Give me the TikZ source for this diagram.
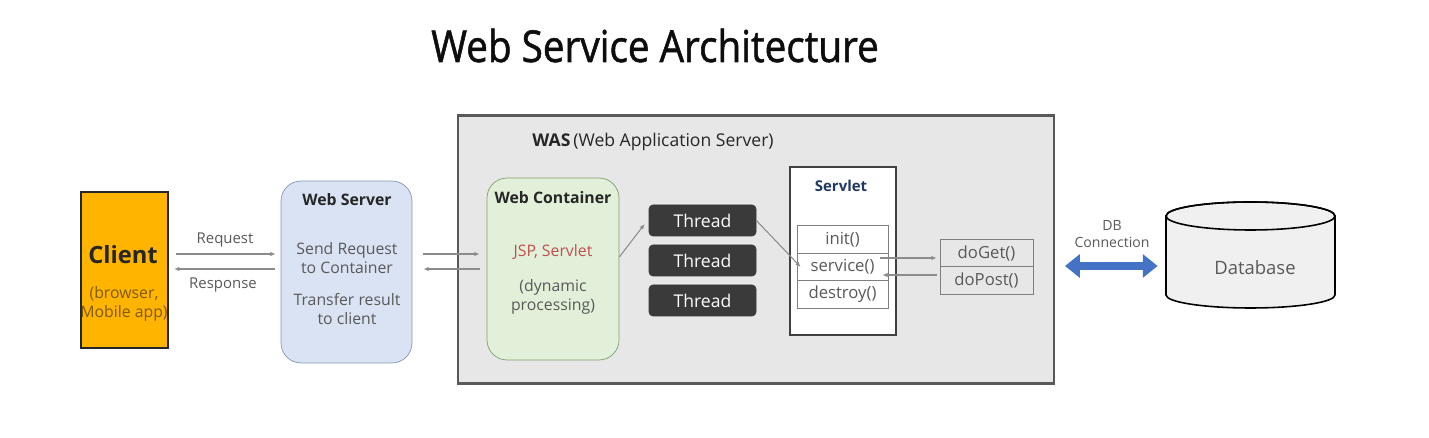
\documentclass[tikz,border=0pt]{standalone}
\usepackage{fontspec}
\setmainfont{Open Sans}
\newfontfamily\titlefont[FakeStretch=0.88, FakeBold=1.2]{Open Sans}
\usetikzlibrary{arrows.meta}

\definecolor{titlegray}{HTML}{0D0D0D}
\definecolor{clientfill}{HTML}{FFB400}
\definecolor{clientline}{HTML}{262626}
\definecolor{clienttext}{HTML}{7F5A00}
\definecolor{wsfill}{HTML}{DAE3F3}
\definecolor{wsline}{HTML}{8497B0}
\definecolor{wasfill}{HTML}{E7E7E7}
\definecolor{wasline}{HTML}{595959}
\definecolor{wcfill}{HTML}{E2F0D9}
\definecolor{wcline}{HTML}{7F9F6F}
\definecolor{jspred}{HTML}{C0504D}
\definecolor{threadfill}{HTML}{3A3A3A}
\definecolor{servline}{HTML}{404040}
\definecolor{servtext}{HTML}{1F3864}
\definecolor{methline}{HTML}{7F7F7F}
\definecolor{conngray}{HTML}{8C8C8C}
\definecolor{dbblue}{HTML}{4472C4}
\definecolor{dbfill}{HTML}{F0F0F0}
\definecolor{bodytext}{HTML}{595959}

\tikzset{
  conn/.style={draw=conngray, line width=0.6pt, -{Latex[length=3pt,width=2.5pt]}},
  bodyfont/.style={text=bodytext, font=\fontsize{9}{10.5}\selectfont, align=center},
  headfont/.style={text=clientline, font=\bfseries\fontsize{9}{11}\selectfont, anchor=base},
  threadbox/.style={fill=threadfill, draw=threadfill, rounded corners=0.08cm,
    minimum width=2.14cm, minimum height=0.62cm, text=white, font=\fontsize{10}{12}\selectfont},
  method/.style={draw=methline, fill=white, minimum width=1.82cm, minimum height=0.55cm,
    text=bodytext, font=\fontsize{9.5}{11}\selectfont},
  dispatch/.style={draw=methline, fill=wasfill, minimum width=1.86cm, minimum height=0.55cm,
    text=bodytext, font=\fontsize{9.5}{11}\selectfont}
}

\begin{document}
\begin{tikzpicture}[x=0.02cm, y=0.02cm]
    \useasboundingbox (0,0) rectangle (1429,438);
    \node[anchor=base, text=titlegray, font=\titlefont\fontsize{25}{30}\selectfont] (title) at (655,376) {Web Service Architecture};

    \node[draw=clientline, line width=1.2pt, fill=clientfill, minimum width=1.74cm, minimum height=3.12cm] (client) at (124.5,168) {};
    \node[anchor=base, text=clientline, font=\bfseries\fontsize{13.5}{16}\selectfont] (clientname) at (123,174) {Client};
    \node[bodyfont, text=clienttext] (clientsub) at (124,134) {(browser,\\Mobile app)};

    \node[draw=wsline, fill=wsfill, rounded corners=0.4cm, minimum width=2.62cm, minimum height=3.64cm] (websrv) at (346.5,166) {};
    \node[headfont] (websrvname) at (347,232) {Web Server};
    \node[bodyfont] (websrvsend) at (347,180) {Send Request\\to Container};
    \node[bodyfont] (websrvback) at (347,129) {Transfer result\\to client};

    \node[bodyfont, font=\fontsize{8.5}{10}\selectfont, anchor=base] (request) at (225,194) {Request};
    \node[bodyfont, font=\fontsize{8.5}{10}\selectfont, anchor=base] (response) at (223,149) {Response};
    \draw[conn, shorten <=0.14cm, shorten >=0.1cm] (client.east |- 0,184) -- (websrv.west |- 0,184);
    \draw[conn, shorten <=0.12cm, shorten >=0.1cm] (websrv.west |- 0,169) -- (client.east |- 0,169);

    \node[draw=wasline, line width=1.2pt, fill=wasfill, minimum width=11.92cm, minimum height=5.36cm] (was) at (756,188.5) {};
    \node[anchor=base, text=clientline, font=\fontsize{10}{12}\selectfont] (wasname) at (653,291) {\textbf{WAS}\,(Web Application Server)};

    \node[draw=wcline, fill=wcfill, rounded corners=0.4cm, minimum width=2.64cm, minimum height=3.64cm] (wc) at (553,169) {};
    \node[headfont] (wcname) at (553,234) {Web Container};
    \node[bodyfont, text=jspred, anchor=base] (wcjsp) at (553,181) {JSP, Servlet};
    \node[bodyfont] (wcdyn) at (553,141) {(dynamic\\processing)};

    \draw[conn, shorten <=0.22cm, shorten >=0.14cm] (websrv.east |- 0,184) -- (wc.west |- 0,184);
    \draw[conn, shorten <=0.14cm, shorten >=0.22cm] (wc.west |- 0,169) -- (websrv.east |- 0,169);

    \node[threadbox] (thread1) at (702.5,217.5) {Thread};
    \node[threadbox] (thread2) at (702.5,177.5) {Thread};
    \node[threadbox] (thread3) at (702.5,137.5) {Thread};
    \draw[conn] (wc.east |- 0,181) -- ([xshift=-0.08cm]thread1.west |- 0,214);

    \node[draw=servline, line width=0.9pt, fill=white, minimum width=2.12cm, minimum height=3.36cm] (servlet) at (843,187) {};
    \node[anchor=base, text=servtext, font=\bfseries\fontsize{8.5}{10}\selectfont] (servletname) at (841,246) {Servlet};
    \node[method] (init) at (842.5,198.5) {init()};
    \node[method] (service) at (842.5,171) {service()};
    \node[method] (destroy) at (842.5,143.5) {destroy()};
    \draw[conn] (thread1.east) -- ([xshift=0.08cm]service.west);

    \node[dispatch] (doget) at (986.5,185) {doGet()};
    \node[dispatch] (dopost) at (986.5,157.5) {doPost()};
    \draw[conn, shorten >=0.06cm] ([xshift=-0.16cm]service.east |- 0,180) -- (doget.west |- 0,180);
    \draw[conn, shorten <=0.06cm] (dopost.west |- 0,163) -- ([xshift=-0.12cm]service.east |- 0,163);

    \node[minimum width=3.38cm, minimum height=2.12cm] (db) at (1250.5,183) {};
    \filldraw[draw=black, line width=0.9pt, fill=dbfill] (1166,222) -- (1166,143)
        arc[start angle=180, end angle=360, x radius=84.5, y radius=13] -- (1335,222)
        arc[start angle=0, end angle=180, x radius=84.5, y radius=14] -- cycle;
    \draw[line width=0.9pt] (1250.5,222) ellipse [x radius=84.5, y radius=14];
    \node[text=bodytext, font=\fontsize{10.5}{12}\selectfont, anchor=base] (dbname) at (1255,163) {Database};

    \node[bodyfont, font=\fontsize{8}{9.5}\selectfont] (dbconn) at (1112,204) {DB\\Connection};
    \draw[draw=dbblue, line width=4pt, shorten <=0.2cm, shorten >=0.16cm,
        {Triangle[length=8.5pt,width=13pt]}-{Triangle[length=8.5pt,width=13pt]}]
        (was.east |- 0,172) -- (db.west |- 0,172);
\end{tikzpicture}
\end{document}
